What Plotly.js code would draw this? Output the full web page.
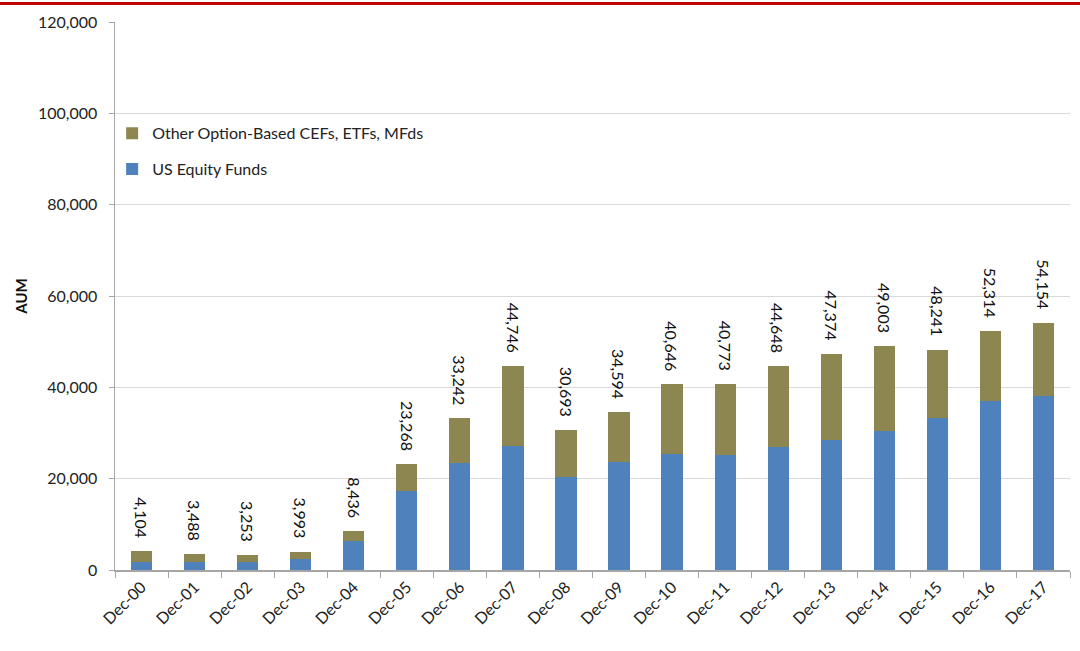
<!DOCTYPE html>
<html>
<head>
<meta charset="utf-8">
<script src="https://cdn.plot.ly/plotly-3.0.1.min.js"></script>
<style>
html,body{margin:0;padding:0;background:#fff;}
#wrap{position:relative;width:1080px;height:651px;}
#bar{position:absolute;left:0;top:2px;width:1080px;height:3px;background:#C00000;}
#chart{position:absolute;left:0;top:0;width:1080px;height:651px;}
</style>
</head>
<body>
<div id="wrap"><div id="chart"></div><div id="bar"></div></div>
<script>
var categories = ["Dec-00","Dec-01","Dec-02","Dec-03","Dec-04","Dec-05","Dec-06","Dec-07","Dec-08","Dec-09","Dec-10","Dec-11","Dec-12","Dec-13","Dec-14","Dec-15","Dec-16","Dec-17"];
var totalAUM = [4104,3488,3253,3993,8436,23268,33242,44746,30693,34594,40646,40773,44648,47374,49003,48241,52314,54154];
var usEquity = [1800,1700,1700,2400,6300,17300,23400,27200,20400,23600,25500,25200,26900,28500,30500,33300,36900,38000];
var totalLabels = ["4,104","3,488","3,253","3,993","8,436","23,268","33,242","44,746","30,693","34,594","40,646","40,773","44,648","47,374","49,003","48,241","52,314","54,154"];
var yTickVals = [0,20000,40000,60000,80000,100000,120000];
var yTickText = ["0","20,000","40,000","60,000","80,000","100,000","120,000"];

var otherOption = totalAUM.map(function(t,i){return t - usEquity[i];});
var FONT = "Lato, 'Liberation Sans', Arial, sans-serif";

var traces = [
  {type:"bar", name:"US Equity Funds", x:categories, y:usEquity, marker:{color:"#4F81BD"}, legendgroup:"a", legendrank:2, hoverinfo:"y"},
  {type:"bar", name:"Other Option-Based CEFs, ETFs, MFds", x:categories, y:otherOption, marker:{color:"#8E8651"}, legendgroup:"b", legendrank:1, hoverinfo:"y"}
];

var annotations = categories.map(function(c,i){
  return {x:c, y:totalAUM[i], xref:"x", yref:"y", text:totalLabels[i], showarrow:false,
    textangle:90, xanchor:"center", yanchor:"bottom", yshift:11,
    font:{family:FONT, size:16, color:"#111"}};
});

var layout = {
  width:1080, height:651,
  margin:{l:115, r:10, t:22, b:81},
  paper_bgcolor:"#fff", plot_bgcolor:"#fff",
  barmode:"stack", bargap:0.6,
  font:{family:FONT, size:16, color:"#222"},
  showlegend:true,
  legend:{x:-0.003, y:0.828, xanchor:"left", yanchor:"top", traceorder:"grouped", tracegroupgap:12,
    font:{family:FONT, size:16, color:"#222"}, bgcolor:"rgba(0,0,0,0)"},
  xaxis:{type:"category", tickangle:-45, showgrid:false, showline:true, linecolor:"#A6A6A6", linewidth:1.5,
    ticks:"outside", tickson:"boundaries", ticklen:6, tickcolor:"#A6A6A6",
    tickfont:{family:FONT, size:16, color:"#222"}},
  yaxis:{range:[0,120000], tickvals:yTickVals, ticktext:yTickText, showgrid:true, gridcolor:"#D9D9D9", gridwidth:1,
    showline:true, linecolor:"#A6A6A6", linewidth:1.5, ticks:"outside", ticklen:5, tickcolor:"#A6A6A6",
    ticklabelstandoff:8, zeroline:false,
    tickfont:{family:FONT, size:16, color:"#222"},
    title:{text:"<b>AUM</b>", font:{family:FONT, size:15, color:"#111"}, standoff:6}},
  annotations:annotations
};

Plotly.newPlot("chart", traces, layout, {displayModeBar:false, staticPlot:true});
</script>
</body>
</html>
